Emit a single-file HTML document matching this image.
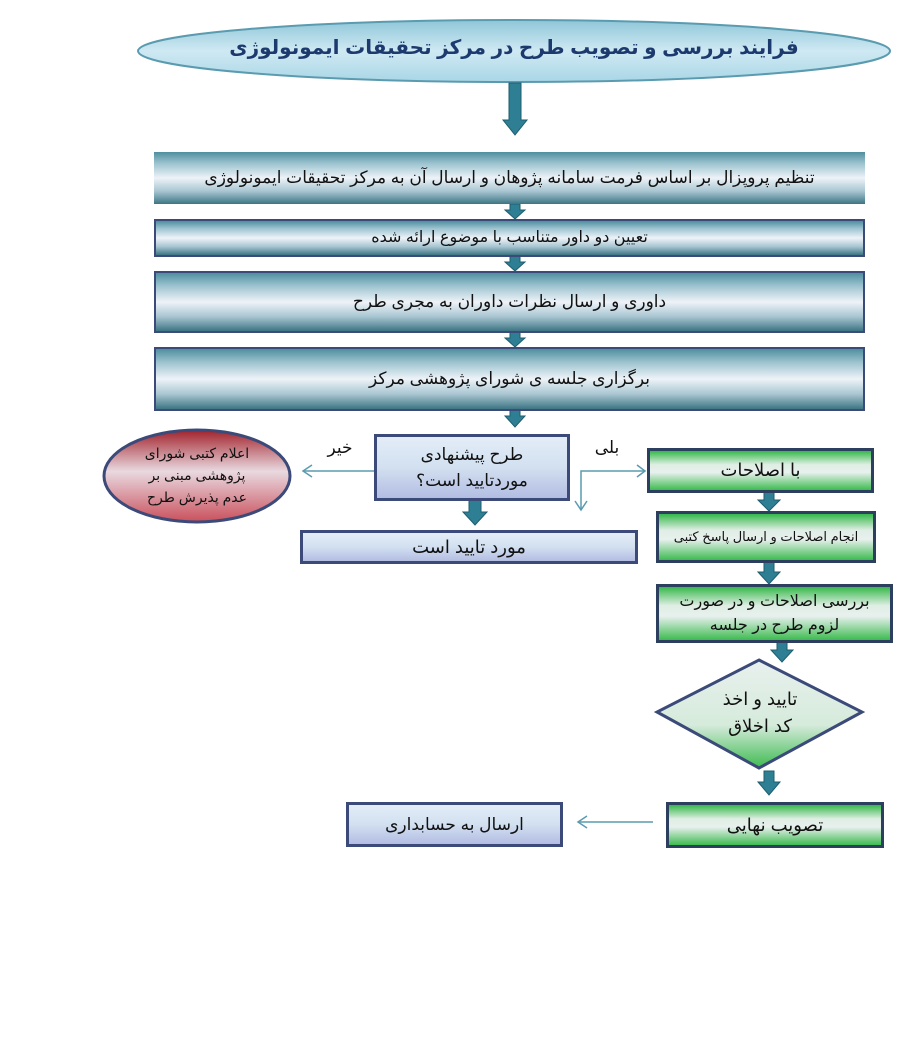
<!DOCTYPE html>
<html><head><meta charset="utf-8"><style>
body{margin:0;width:899px;height:1046px;background:#fff;position:relative;overflow:hidden;font-family:"Liberation Sans","DejaVu Sans",sans-serif}
.b{position:absolute;box-sizing:border-box;display:flex;align-items:center;justify-content:center;text-align:center;direction:rtl;color:#111;line-height:1.5}
.teal{background:linear-gradient(#4f8f9e 0%,#9cc3cf 22%,#eef3f8 50%,#a9c6d2 75%,#3d7584 100%)}
.blue{background:linear-gradient(#e3edf7 0%,#d2e0f0 50%,#b3bde3 100%);border:3px solid #3b4a78}
.green{background:linear-gradient(#35b84a 0%,#dfeee4 35%,#e8f0ee 55%,#3dbb50 100%);border:3px solid #2d3f5e}
svg{position:absolute;left:0;top:0}
</style></head><body>
<svg width="899" height="1046">
<defs>
<linearGradient id="eg" x1="0" y1="0" x2="0" y2="1"><stop offset="0" stop-color="#8fc6d8"/><stop offset="0.5" stop-color="#cfe9f3"/><stop offset="1" stop-color="#a9d6e6"/></linearGradient>
<linearGradient id="rg" x1="0" y1="0" x2="0" y2="1"><stop offset="0" stop-color="#a2222c"/><stop offset="0.45" stop-color="#e9d9e0"/><stop offset="1" stop-color="#c9505c"/></linearGradient>
<linearGradient id="dg" x1="0" y1="0" x2="0" y2="1"><stop offset="0" stop-color="#e8f0ee"/><stop offset="0.6" stop-color="#d6ebdc"/><stop offset="1" stop-color="#3dbb50"/></linearGradient>
</defs>
<ellipse cx="514" cy="51" rx="376" ry="31" fill="url(#eg)" stroke="#5a9bb0" stroke-width="2"/>
<ellipse cx="197" cy="476" rx="93" ry="46" fill="url(#rg)" stroke="#3b4a78" stroke-width="3"/>
<polygon points="759,660 862,712 759,768 657,712" fill="url(#dg)" stroke="#3b4a78" stroke-width="3"/>
<g fill="#2e7f94" stroke="#1d5d6e" stroke-width="1">
<polygon points="509,83 521,83 521,120 527,120 515,135 503,120 509,120"/>
<polygon points="510,204 520,204 520,210 525,210 515,219 505,210 510,210"/>
<polygon points="510,256 520,256 520,262 525,262 515,271 505,262 510,262"/>
<polygon points="510,332 520,332 520,338 525,338 515,347 505,338 510,338"/>
<polygon points="510,410 520,410 520,416 525,416 515,427 505,416 510,416"/>
<polygon points="469,500 481,500 481,512 487,512 475,525 463,512 469,512"/>
<polygon points="764,492 774,492 774,500 780,500 769,511 758,500 764,500"/>
<polygon points="764,562 774,562 774,572 780,572 769,584 758,572 764,572"/>
<polygon points="777,642 787,642 787,650 793,650 782,662 771,650 777,650"/>
<polygon points="764,771 774,771 774,782 780,782 769,795 758,782 764,782"/>
</g>
<g stroke="#5a9bb0" stroke-width="1.5" fill="none">
<line x1="374" y1="471" x2="303" y2="471"/><polyline points="312,465 303,471 312,477"/>
<polyline points="645,471 581,471 581,510"/><polyline points="637,465 645,471 637,477"/><polyline points="575,501 581,510 587,501"/>
<line x1="653" y1="822" x2="578" y2="822"/><polyline points="587,816 578,822 587,828"/>
</g>
<text x="514" y="54" text-anchor="middle" direction="rtl" font-size="20" font-weight="bold" fill="#1d3a6e" font-family="Liberation Sans, DejaVu Sans, sans-serif">فرایند بررسی و تصویب طرح در مرکز تحقیقات ایمونولوژی</text>
<text x="340" y="453" text-anchor="middle" font-size="17" fill="#111">خیر</text>
<text x="607" y="453" text-anchor="middle" font-size="17" fill="#111">بلی</text>
</svg>
<div class="b" style="left:103px;top:432px;width:188px;height:88px;font-size:14px;line-height:1.55">اعلام کتبی شورای<br>پژوهشی مبنی بر<br>عدم پذیرش طرح</div>
<div class="b teal" style="left:154px;top:152px;width:711px;height:52px;font-size:17px">تنظیم پروپزال بر اساس فرمت سامانه پژوهان و ارسال آن به مرکز تحقیقات ایمونولوژی</div>
<div class="b teal" style="left:154px;top:219px;width:711px;height:38px;font-size:16px;border:2px solid #3b4a78">تعیین دو داور متناسب با موضوع ارائه شده</div>
<div class="b teal" style="left:154px;top:271px;width:711px;height:62px;font-size:17px;border:2px solid #3b4a78">داوری و ارسال نظرات داوران به مجری طرح</div>
<div class="b teal" style="left:154px;top:347px;width:711px;height:64px;font-size:17px;border:2px solid #3b4a78">برگزاری جلسه ی شورای پژوهشی مرکز</div>
<div class="b blue" style="left:374px;top:434px;width:196px;height:67px;font-size:17px">طرح پیشنهادی<br>موردتایید است؟</div>
<div class="b blue" style="left:300px;top:530px;width:338px;height:34px;font-size:18px">مورد تایید است</div>
<div class="b green" style="left:647px;top:448px;width:227px;height:45px;font-size:18px">با اصلاحات</div>
<div class="b green" style="left:656px;top:511px;width:220px;height:52px;font-size:13px">انجام اصلاحات و ارسال پاسخ کتبی</div>
<div class="b green" style="left:656px;top:584px;width:237px;height:59px;font-size:16px">بررسی اصلاحات و در صورت<br>لزوم طرح در جلسه</div>
<div class="b" style="left:680px;top:675px;width:160px;height:75px;font-size:18px">تایید و اخذ<br>کد اخلاق</div>
<div class="b green" style="left:666px;top:802px;width:218px;height:46px;font-size:18px">تصویب نهایی</div>
<div class="b blue" style="left:346px;top:802px;width:217px;height:45px;font-size:17px">ارسال به حسابداری</div>
</body></html>
